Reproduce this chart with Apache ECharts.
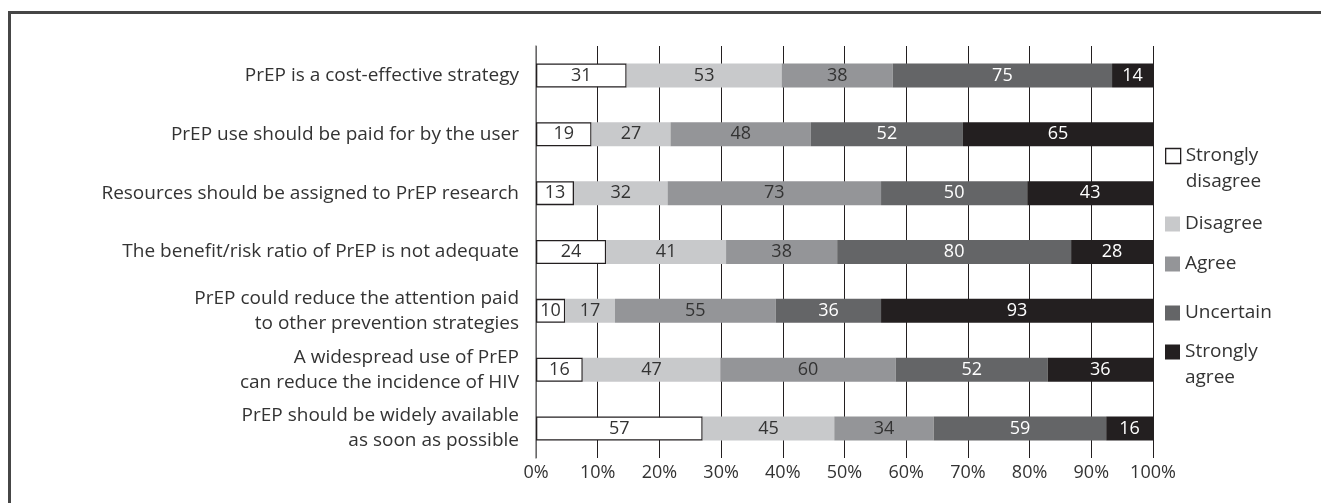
<!DOCTYPE html>
<html><head><meta charset="utf-8">
<script src="https://cdn.jsdelivr.net/npm/echarts@6/dist/echarts.min.js"></script>
<style>
html,body{margin:0;padding:0;background:#fff;overflow:hidden}
#frame{position:absolute;left:8px;top:11px;width:1400px;height:600px;border-top:3px solid #464646;border-left:3px solid #464646}
#chart{position:absolute;left:0;top:0;width:1321px;height:503px}
</style></head><body><div id="frame"></div><div id="chart"></div>
<script>
const statements = [
  'PrEP is a cost-effective strategy',
  'PrEP use should be paid for by the user',
  'Resources should be assigned to PrEP research',
  'The benefit/risk ratio of PrEP is not adequate',
  'PrEP could reduce the attention paid\nto other prevention strategies',
  'A widespread use of PrEP\ncan reduce the incidence of HIV',
  'PrEP should be widely available\nas soon as possible'
];
const seriesNames = ['Strongly disagree', 'Disagree', 'Agree', 'Uncertain', 'Strongly agree'];
const stronglyDisagree = [31, 19, 13, 24, 10, 16, 57];
const disagree = [53, 27, 32, 41, 17, 47, 45];
const agree = [38, 48, 73, 38, 55, 60, 34];
const uncertain = [75, 52, 50, 80, 36, 52, 59];
const stronglyAgree = [14, 65, 43, 28, 93, 36, 16];
const tickLabels = ['0%', '10%', '20%', '30%', '40%', '50%', '60%', '70%', '80%', '90%', '100%'];

const counts = [stronglyDisagree, disagree, agree, uncertain, stronglyAgree];
const totals = statements.map((_, i) => counts.reduce((s, arr) => s + arr[i], 0));
const fills = ['#ffffff', '#c8c9cb', '#949598', '#646567', '#231f20'];
const labelColors = ['#333', '#333', '#333', '#fff', '#fff'];
const FONT = '"Open Sans", sans-serif';

const series = counts.map((arr, k) => ({
  name: seriesNames[k],
  type: 'bar',
  stack: 'total',
  barWidth: 24,
  data: arr.map((v, i) => v / totals[i] * 100),
  itemStyle: {
    color: fills[k],
    borderColor: k === 0 ? '#231f20' : fills[k],
    borderWidth: k === 0 ? 1.3 : 0
  },
  label: {
    show: true,
    position: 'inside',
    color: labelColors[k],
    fontFamily: FONT,
    fontSize: 18,
    formatter: p => String(arr[p.dataIndex])
  },
  emphasis: { disabled: true }
}));

const legendCenters = [156, 222, 262, 311, 352];
const legends = seriesNames.map((n, k) => {
  const twoLine = n.startsWith('Strongly');
  return {
    data: [n],
    left: 1165,
    top: twoLine ? legendCenters[k] - 39 : legendCenters[k] - 10,
    padding: 0,
    orient: 'vertical',
    icon: 'rect',
    itemWidth: 15,
    itemHeight: 15,
    selectedMode: false,
    itemStyle: k === 0 ? { color: '#fff', borderColor: '#231f20', borderWidth: 1.3 } : { color: fills[k], borderWidth: 0 },
    formatter: name => twoLine ? ' \n' + name.replace('Strongly ', 'Strongly\n') : name,
    textStyle: {
      fontFamily: FONT, fontSize: 19, color: '#333', lineHeight: twoLine ? 26 : 24
    }
  };
});

const chart = echarts.init(document.getElementById('chart'), null, { renderer: 'canvas' });
chart.setOption({
  animation: false,
  backgroundColor: 'transparent',
  grid: { left: 536, right: 168, top: 46, bottom: 45, containLabel: false },
  legend: legends,
  xAxis: {
    type: 'value',
    min: 0, max: 100, interval: 10,
    axisLine: { show: false },
    axisTick: { show: false },
    splitLine: { show: true, lineStyle: { color: '#231f20', width: 1 } },
    axisLabel: {
      margin: 6,
      fontFamily: FONT, fontSize: 18, color: '#333',
      formatter: v => tickLabels[Math.round(v / 10)]
    }
  },
  yAxis: {
    type: 'category',
    inverse: true,
    data: statements,
    axisLine: { show: true, lineStyle: { color: '#808080', width: 1.5 } },
    axisTick: { show: false },
    axisLabel: {
      margin: 17,
      fontFamily: FONT, fontSize: 19, color: '#333', lineHeight: 25
    }
  },
  series: series
});
</script></body></html>
